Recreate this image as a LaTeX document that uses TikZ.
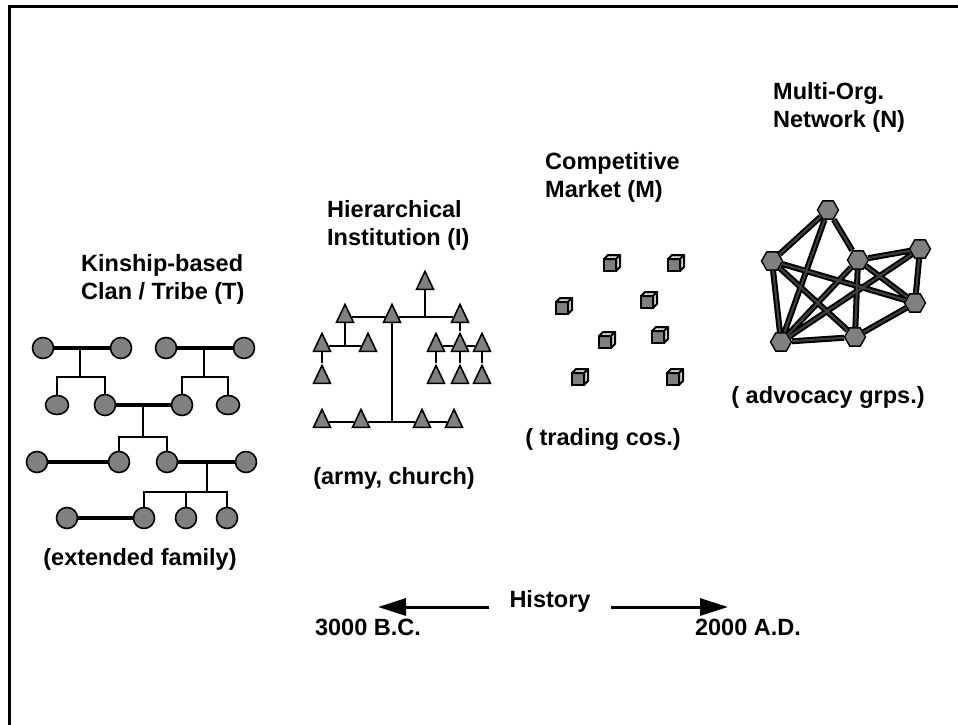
\documentclass[tikz,border=0pt]{standalone}
\usepackage{fontspec}
\setmainfont{Liberation Sans}
\usetikzlibrary{shapes.geometric,arrows.meta}
\definecolor{midgray}{RGB}{128,128,128}
\definecolor{pale}{RGB}{205,205,205}

\begin{document}
\begin{tikzpicture}[x=1pt,y=-1pt,
  heading/.style={font=\fontsize{23.5}{28}\selectfont\bfseries, inner sep=0pt, align=left},
  person/.style={circle, draw, fill=midgray, line width=1.6pt, minimum size=21pt, inner sep=0pt},
  wideperson/.style={person, ellipse, minimum width=23pt, minimum height=19pt},
  couple/.style={line width=4.5pt},
  kin/.style={line width=2.2pt},
  rank/.style={isosceles triangle, isosceles triangle stretches, shape border rotate=90, draw, fill=midgray, line width=1.6pt, inner sep=0pt, minimum width=17pt, minimum height=18pt},
  hub/.style={regular polygon, regular polygon sides=6, draw, fill=midgray, line width=1.4pt, inner sep=0pt, minimum size=21pt},
  tie/.style={line width=2pt, double=darkgray, double distance=2pt},
  timeline/.style={line width=3pt, -{Triangle[length=28pt,width=17pt]}},
  firm/.pic={
    \filldraw[fill=midgray, line width=2pt] (-8,-4) rectangle (4,8);
    \filldraw[fill=pale, line width=2pt, line join=round] (-8,-4) -- (-4,-8) -- (8,-8) -- (4,-4) -- cycle;
    \filldraw[fill=pale, line width=2pt, line join=round] (4,-4) -- (8,-8) -- (8,4) -- (4,8) -- cycle;
  }]
\useasboundingbox (0,0) rectangle (958,725);
\draw[line width=3pt] (958,7) -- (9,7) -- (9,725);

% kinship
\node[person] (p1) at (43,348) {};
\node[person] (p2) at (121,348) {};
\node[person] (p3) at (166,348) {};
\node[person] (p4) at (244,348) {};
\node[wideperson] (p5) at (57,405) {};
\node[person] (p6) at (105,405) {};
\node[person] (p7) at (182,405) {};
\node[wideperson] (p8) at (228,405) {};
\node[person] (p9) at (37,462) {};
\node[person] (p10) at (119,462) {};
\node[person] (p11) at (167,462) {};
\node[person] (p12) at (246,462) {};
\node[person] (p13) at (67,518) {};
\node[person] (p14) at (144,518) {};
\node[person] (p15) at (186,518) {};
\node[person] (p16) at (227,518) {};
\draw[couple] (p1) -- (p2) (p3) -- (p4) (p6) -- (p7) (p9) -- (p10) (p11) -- (p12) (p13) -- (p14);
\coordinate (m1) at (80,348); \coordinate (b1) at (80,377);
\coordinate (m2) at (204,348); \coordinate (b2) at (204,377);
\coordinate (m3) at (143,405); \coordinate (b3) at (143,437);
\coordinate (m4) at (207,462); \coordinate (b4) at (207,492);
\draw[kin] (m1) -- (b1) (p5.north) |- (b1) -| (p6.north);
\draw[kin] (m2) -- (b2) (p7.north) |- (b2) -| (p8.north);
\draw[kin] (m3) -- (b3) (p10.north) |- (b3) -| (p11.north);
\draw[kin] (m4) -- (b4) (p14.north) |- (b4) -| (p16.north) (p15.north) -- (p15.north |- b4);

% hierarchy
\node[rank] (t0) at (425,284) {};
\node[rank] (a1) at (345,317) {};
\node[rank] (a2) at (392,317) {};
\node[rank] (a3) at (460,317) {};
\node[rank] (r1) at (322,346) {};
\node[rank] (r2) at (368,346) {};
\node[rank] (r3) at (436,346) {};
\node[rank] (r4) at (460,346) {};
\node[rank] (r5) at (482,346) {};
\node[rank] (c1) at (322,378) {};
\node[rank] (c2) at (436,378) {};
\node[rank] (c3) at (460,378) {};
\node[rank] (c4) at (482,378) {};
\node[rank] (d1) at (322,422) {};
\node[rank] (d2) at (361,422) {};
\node[rank] (d3) at (422,422) {};
\node[rank] (d4) at (454,422) {};
\coordinate (jt) at (425,317);
\coordinate (ja) at (345,346);
\coordinate (jc) at (392,422);
\draw[kin] (t0) -- (jt) (a1) -- (a2) -- (a3);
\draw[kin] (a1) -- (ja) (r1) -- (r2) (r1) -- (c1);
\draw[kin] (a2) -- (jc) (d1) -- (d2) -- (d3) -- (d4);
\draw[kin] (a3) -- (r4) (r3) -- (r4) -- (r5) (r3) -- (c2) (r4) -- (c3) (r5) -- (c4);

% market
\pic at (612,263) {firm};
\pic at (676,263) {firm};
\pic at (564,306) {firm};
\pic at (649,300) {firm};
\pic at (607,340) {firm};
\pic at (660,335) {firm};
\pic at (580,377) {firm};
\pic at (675,377) {firm};

% network
\node[hub] (n1) at (828,210) {};
\node[hub] (n2) at (772,261) {};
\node[hub] (n3) at (858,260) {};
\node[hub] (n4) at (920,249) {};
\node[hub] (n5) at (915,303) {};
\node[hub] (n6) at (855,337) {};
\node[hub] (n7) at (781,342) {};
\draw[tie] (n1) -- (n2) (n1) -- (n3) (n1) -- (n7) (n2) -- (n7) (n2) -- (n5) (n2) -- (n6)
  (n3) -- (n4) (n3) -- (n5) (n3) -- (n6) (n3) -- (n7) (n4) -- (n5) (n4) -- (n7) (n5) -- (n6) (n6) -- (n7);

% texts
\node[heading, anchor=north west] (netlbl) at (773,82) {Multi-Org.\\Network (N)};
\node[heading, anchor=north west] (mktlbl) at (545,152) {Competitive\\Market (M)};
\node[heading, anchor=north west] (hierlbl) at (327,200) {Hierarchical\\Institution (I)};
\node[heading, anchor=north west] (kinlbl) at (81,254) {Kinship-based\\Clan / Tribe (T)};
\node[heading, anchor=base] (armylbl) at (394,484) {(army, church)};
\node[heading, anchor=base] (tradelbl) at (603,445) {( trading cos.)};
\node[heading, anchor=base] (advlbl) at (828,403) {( advocacy grps.)};
\node[heading, anchor=base] (famlbl) at (140,565) {(extended family)};
\node[heading, anchor=base, inner xsep=20pt] (hist) at (550,607) {History};
\node[heading, anchor=base] (bc) at (368,635) {3000 B.C.};
\node[heading, anchor=base] (ad) at (748,635) {2000 A.D.};
\coordinate (past) at (378,607);
\coordinate (now) at (728,607);
\draw[timeline] (hist.base west) -- (past);
\draw[timeline] (hist.base east) -- (now);
\end{tikzpicture}
\end{document}
